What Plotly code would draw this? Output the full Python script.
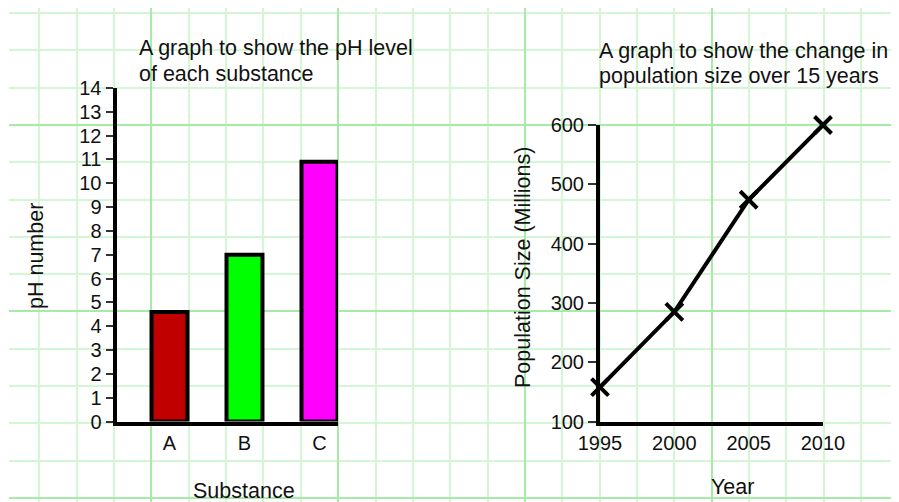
import plotly.graph_objects as go

# ---- data ----
substances = ["A", "B", "C"]
ph_values = [4.6, 7.0, 10.9]
bar_colors = ["#c00000", "#00ff00", "#ff00ff"]

years = [1995, 2000, 2005, 2010]
population = [158, 285, 474, 600]

W, H = 899, 502
OFF = 8  # page body margin of the html page
FONT = "Liberation Sans, Arial, Helvetica, sans-serif"
TXT = "#111111"

def px_x(p):
    """screen pixel x -> paper fraction"""
    return (p - OFF) / W

def px_y(p):
    """screen pixel y (from top) -> paper fraction"""
    return 1 - (p - OFF) / H

fig = go.Figure()

# background graph-paper subplot (x / y)
fig.add_trace(go.Scatter(x=[None], y=[None], xaxis="x", yaxis="y",
                         showlegend=False, hoverinfo="skip"))

# left: bar chart (x2 / y2)
fig.add_trace(go.Bar(
    x=substances, y=ph_values, xaxis="x2", yaxis="y2",
    width=0.48,
    marker=dict(color=bar_colors, line=dict(color="black", width=4)),
    showlegend=False, hoverinfo="x+y",
))

# right: line chart (x3 / y3)
fig.add_trace(go.Scatter(
    x=years, y=population, xaxis="x3", yaxis="y3",
    mode="lines+markers",
    line=dict(color="black", width=4),
    marker=dict(symbol="x-thin", size=17, color="black",
                line=dict(color="black", width=4)),
    cliponaxis=False, showlegend=False,
))

minor_col = "#d3f6d3"
major_col = "#a6eca6"

axis_font = dict(family=FONT, size=20, color=TXT)

fig.update_layout(
    template="none",
    width=W, height=H, autosize=False,
    margin=dict(l=0, r=0, t=0, b=0, pad=0, autoexpand=False),
    paper_bgcolor="white",
    plot_bgcolor="rgba(0,0,0,0)",
    showlegend=False,
    font=dict(family=FONT, color=TXT),
    # background grid (in screen pixels)
    xaxis=dict(domain=[px_x(9), px_x(899)], range=[9, 899], showticklabels=False,
               zeroline=False, showline=False, ticks="", automargin=False,
               tick0=151.4, dtick=186.75, showgrid=True,
               gridcolor=major_col, gridwidth=2,
               minor=dict(tick0=2.0, dtick=37.35, showgrid=True,
                          gridcolor=minor_col, gridwidth=1.5),
               fixedrange=True),
    yaxis=dict(domain=[px_y(502), px_y(OFF)], range=[502, OFF], showticklabels=False,
               zeroline=False, showline=False, ticks="", automargin=False,
               tick0=124.9, dtick=186.5, showgrid=True,
               gridcolor=major_col, gridwidth=2,
               minor=dict(tick0=13.0, dtick=37.3, showgrid=True,
                          gridcolor=minor_col, gridwidth=1.5),
               fixedrange=True),
    # bar chart axes
    xaxis2=dict(domain=[px_x(116.5), px_x(338)], anchor="y2",
                type="category", range=[-0.707, 2.247], automargin=False,
                showline=True, linecolor="black", linewidth=4,
                ticks="", showgrid=False, zeroline=False,
                tickfont=axis_font, fixedrange=True),
    yaxis2=dict(domain=[px_y(421.5), px_y(88)], anchor="x2",
                range=[0, 14], dtick=1, tick0=0, automargin=False,
                showline=True, linecolor="black", linewidth=4,
                ticks="outside", ticklen=7, tickwidth=1.5, tickcolor="#333",
                showgrid=False, zeroline=False,
                tickfont=axis_font, fixedrange=True),
    # line chart axes
    xaxis3=dict(domain=[px_x(600), px_x(823)], anchor="y3",
                range=[1995, 2010], tickvals=years, automargin=False,
                showline=True, linecolor="black", linewidth=4,
                ticks="", showgrid=False, zeroline=False,
                tickfont=axis_font, fixedrange=True),
    yaxis3=dict(domain=[px_y(421.5), px_y(125)], anchor="x3",
                range=[100, 600], dtick=100, tick0=100, automargin=False,
                showline=True, linecolor="black", linewidth=4,
                ticks="outside", ticklen=8, tickwidth=1.5, tickcolor="#333",
                showgrid=False, zeroline=False,
                tickfont=axis_font, fixedrange=True),
)

title_font = dict(family=FONT, size=21.5, color=TXT)
ann = [
    dict(text="A graph to show the pH level", x=px_x(137), y=px_y(48),
         xanchor="left", yanchor="middle"),
    dict(text="of each substance", x=px_x(137), y=px_y(74),
         xanchor="left", yanchor="middle"),
    dict(text="A graph to show the change in", x=px_x(597), y=px_y(51),
         xanchor="left", yanchor="middle"),
    dict(text="population size over 15 years", x=px_x(597), y=px_y(76),
         xanchor="left", yanchor="middle"),
    dict(text="pH number", x=px_x(36), y=px_y(256), textangle=-90,
         xanchor="center", yanchor="middle"),
    dict(text="Substance", x=px_x(243.5), y=px_y(491), xanchor="center", yanchor="middle"),
    dict(text="Population Size (Millions)", x=px_x(523), y=px_y(268), textangle=-90,
         xanchor="center", yanchor="middle"),
    dict(text="Year", x=px_x(732), y=px_y(487), xanchor="center", yanchor="middle"),
]
for a in ann:
    a.update(xref="paper", yref="paper", showarrow=False, font=title_font)
fig.update_layout(annotations=ann)

fig.write_html("out.html")
